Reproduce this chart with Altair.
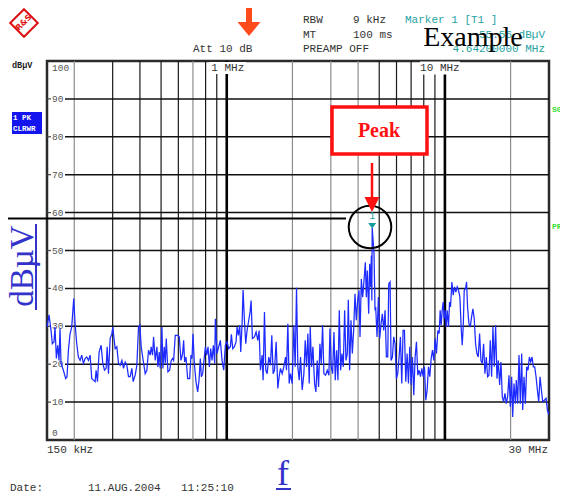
import altair as alt
import pandas as pd

# ---------------- data ----------------
freq_low_khz = [
    150, 153.2, 156.5, 158.7, 161.5, 163.2, 165.6, 167.9, 170.3, 172.1,
    173.9, 178.3, 182.7, 185.3, 188.0, 191.3, 194.7, 198.9, 201.7, 205.3,
    208.9, 212.7, 216.4, 220.3, 224.2, 228.2, 232.3, 236.4, 240.6, 244.9,
    249.3, 251.9, 255.5, 260.0, 265.6, 270.3, 275.1, 280.0, 283.0, 287.0,
    292.1, 297.3, 300.5, 303.7, 308.0, 313.5, 319.1, 324.8, 330.6, 336.4,
    342.3, 348.4, 354.6, 360.9, 367.3, 372.5, 380.5, 387.2, 394.1, 399.8,
    405.4, 412.7, 422.9, 430.4, 438.1, 445.8, 450.6, 457.0, 461.9, 470.1,
    478.5, 483.5, 490.4, 495.6, 500.9, 504.5, 509.8, 517.0, 522.6, 528.1,
    537.5, 547.0, 556.8, 564.7, 570.7, 580.9, 595.4, 606.0, 616.8, 627.7,
    634.4, 641.2, 650.3, 661.9, 676.0, 685.7, 693.0, 700.3, 710.3, 722.9,
    735.7, 746.2, 756.8, 764.8, 775.7, 789.5, 797.9, 809.2, 820.7, 832.4,
    844.2, 856.2, 868.3, 880.7]
level_low_dbuv = [
    29.8, 33.0, 29.0, 25.4, 25.9, 29.8, 21.5, 25.0, 21.0, 29.4,
    20.2, 18.4, 16.2, 16.7, 23.7, 28.0, 29.8, 37.3, 30.7, 25.4,
    21.9, 21.0, 22.4, 20.2, 21.5, 21.9, 21.0, 22.4, 16.2, 15.8,
    15.4, 18.4, 15.4, 23.2, 25.0, 20.2, 18.4, 18.9, 24.6, 17.5,
    26.8, 28.0, 29.8, 27.2, 24.1, 24.6, 20.2, 19.7, 21.0, 18.9,
    20.6, 19.7, 16.7, 16.7, 18.9, 15.4, 17.1, 19.7, 29.8, 30.3,
    24.6, 21.5, 17.5, 18.4, 23.7, 22.4, 24.6, 22.4, 27.2, 21.0,
    24.6, 19.3, 23.2, 18.9, 24.6, 29.8, 18.9, 24.6, 20.2, 26.8,
    18.0, 18.4, 21.0, 21.5, 21.0, 27.6, 27.6, 27.2, 21.0, 22.8,
    26.3, 20.6, 21.9, 16.2, 16.2, 22.4, 21.5, 28.0, 20.2, 15.4,
    12.7, 15.8, 21.5, 16.7, 17.5, 21.9, 24.6, 22.4, 24.6, 19.3,
    24.1, 21.0, 25.0, 20.2]

freq_mid_khz = [
    886.7, 902.4, 918.5, 934.8, 951.5, 968.4, 985.6, 1003.1, 1021.0, 1039.1,
    1050.2, 1065.1, 1084.0, 1103.3, 1115.0, 1130.9, 1146.9, 1159.1, 1175.6, 1188.1,
    1205.0, 1222.1, 1239.4, 1261.5, 1279.4, 1293.0, 1311.4, 1339.4, 1363.2, 1387.5,
    1407.2, 1427.2, 1452.6, 1468.0, 1488.9, 1510.0, 1531.5, 1558.7, 1586.4, 1608.9,
    1631.8, 1655.0, 1684.4, 1714.4, 1738.7, 1763.4, 1794.8, 1826.7, 1859.2, 1879.0,
    1905.7, 1932.7, 1960.2, 1995.0, 2030.5, 2059.4, 2088.6, 2118.3, 2148.4, 2178.9,
    2217.6, 2257.1, 2289.2, 2321.7, 2354.6, 2388.1, 2413.5, 2447.7, 2482.5, 2526.7,
    2562.6, 2599.0, 2635.9, 2673.3, 2711.3, 2749.8, 2788.9, 2838.5, 2889.0, 2940.3,
    2971.6, 3013.8, 3056.6, 3100.0, 3144.1, 3188.7, 3234.0, 3279.9, 3326.5, 3373.8,
    3421.7, 3470.3, 3519.6, 3569.5, 3607.5, 3658.7, 3710.7, 3763.4, 3816.9, 3871.1,
    3926.1, 3981.8, 4038.4, 4081.3, 4139.3, 4198.1, 4257.7, 4318.2, 4364.1, 4410.5,
    4473.2, 4520.8, 4568.8, 4601.2, 4625.0, 4642.0, 4732.8, 4783.2]
level_mid_dbuv = [
    32.0, 22.8, 24.6, 26.3, 21.0, 18.4, 25.0, 25.9, 24.1, 24.6,
    27.9, 24.1, 24.6, 25.9, 29.8, 27.6, 30.3, 23.2, 30.7, 39.6,
    31.6, 25.4, 28.9, 31.6, 33.8, 36.8, 26.8, 27.2, 28.5, 26.3,
    28.9, 18.4, 22.4, 15.8, 33.8, 18.4, 17.5, 21.9, 19.7, 27.6,
    17.5, 18.4, 25.9, 13.6, 16.7, 18.9, 17.5, 19.3, 21.9, 18.4,
    30.7, 14.9, 17.5, 14.9, 30.3, 19.3, 40.2, 19.3, 15.8, 21.9,
    13.2, 17.5, 26.3, 19.3, 28.1, 14.9, 29.8, 19.3, 24.6, 14.9,
    12.7, 21.0, 14.0, 25.4, 20.2, 30.3, 17.5, 17.1, 18.4, 17.1,
    29.4, 19.3, 17.5, 28.5, 15.8, 23.7, 15.8, 34.2, 18.4, 22.8,
    19.3, 34.2, 21.0, 22.8, 37.0, 18.4, 31.6, 22.8, 28.9, 38.6,
    31.6, 36.8, 39.5, 27.2, 42.5, 37.7, 42.1, 46.9, 37.7, 44.7,
    33.3, 46.5, 40.4, 48.7, 36.8, 56.0, 49.1, 34.2]

freq_high_khz = [
    4817, 4885, 4955, 5025, 5097, 5169, 5242, 5317, 5392, 5469,
    5527, 5606, 5665, 5746, 5827, 5910, 5994, 6079, 6165, 6253,
    6342, 6432, 6523, 6616, 6710, 6805, 6902, 7000, 7099, 7200,
    7302, 7406, 7511, 7618, 7726, 7836, 7947, 8060, 8174, 8290,
    8408, 8527, 8648, 8771, 8896, 9022, 9150, 9280, 9412, 9512,
    9613, 9716, 9819, 9923, 10029, 10135, 10243, 10389, 10499, 10611,
    10762, 10914, 11070, 11227, 11386, 11548, 11712, 11878, 12004, 12132,
    12261, 12435, 12568, 12701, 12882, 13065, 13250, 13438, 13629, 13822,
    14019, 14218, 14420, 14625, 14833, 15043, 15257, 15473, 15693, 15916,
    16142, 16372, 16604, 16840, 17079, 17321, 17568, 17817, 18070, 18327,
    18587, 18851, 19119, 19390, 19666, 19945, 20228, 20443, 20734, 21028,
    21252, 21554, 21860, 22170, 22485, 22724, 23047, 23374, 23706, 24043,
    24384, 24731, 25082, 25438, 25800, 26166, 26537, 26914, 27297, 27684,
    28077, 28577, 29085, 29500, 29800, 30000]
level_high_dbuv = [
    35.1, 27.2, 37.7, 26.8, 30.7, 33.3, 28.9, 34.2, 21.9, 21.9,
    41.2, 41.7, 21.0, 21.9, 27.2, 25.4, 16.2, 17.5, 21.9, 27.2,
    14.9, 28.9, 28.9, 15.4, 22.8, 14.9, 24.6, 14.5, 21.9, 11.8,
    21.9, 25.9, 17.1, 18.4, 16.7, 18.9, 16.7, 19.3, 10.5, 13.2,
    19.3, 16.7, 21.5, 23.7, 21.0, 26.8, 22.8, 28.9, 28.1, 34.2,
    30.3, 34.2, 36.4, 32.0, 34.2, 29.8, 34.2, 29.8, 36.4, 35.1,
    41.7, 38.2, 40.4, 39.0, 40.4, 39.5, 37.7, 29.4, 25.0, 29.8,
    39.5, 39.9, 41.7, 35.1, 30.7, 29.8, 32.5, 34.6, 32.0, 25.4,
    22.8, 21.9, 28.1, 21.0, 20.2, 25.4, 17.5, 21.9, 16.7, 17.1,
    26.3, 16.7, 29.8, 19.3, 30.3, 16.2, 21.0, 14.5, 20.6, 11.4,
    10.1, 12.3, 9.6, 11.4, 17.1, 8.8, 16.7, 6.1, 14.9, 9.6,
    15.8, 9.6, 22.4, 9.6, 22.8, 7.9, 16.7, 9.6, 19.3, 18.4,
    21.9, 20.6, 21.9, 19.3, 19.3, 16.7, 13.2, 10.1, 16.7, 13.2,
    10.1, 10.5, 11.0, 7.9, 7.0, 7.5]

level_ticks = [0, 10, 20, 30, 40, 50, 60, 70, 80, 90, 100]
grid_levels = [10, 20, 30, 40, 50, 60, 70, 80, 90]
grid_dark_khz = [300, 400, 500, 600, 800, 900, 5000, 6000, 7000, 8000, 9000]
grid_light_khz = [200, 700, 2000, 3000, 4000, 20000]
grid_decade_khz = [1000, 10000]
marker_khz = [4642]
marker_level = [56.0]
x_domain = [150, 30000]
y_domain = [0, 100]

# ---------------- layout ----------------
W, H = 502, 379
FONT_MONO = "Liberation Mono"
FONT_SERIF = "Liberation Serif"
TEAL = "#27a3a3"
BLUE_TXT = "#3333cc"

xs = alt.Scale(type="log", domain=x_domain, nice=False)
ys = alt.Scale(domain=y_domain, nice=False, zero=False)

trace = pd.DataFrame({
    "f": freq_low_khz + freq_mid_khz + freq_high_khz,
    "l": level_low_dbuv + level_mid_dbuv + level_high_dbuv,
})


def text(t, x, y, **kw):
    return alt.Chart(pd.DataFrame({"t": [t]})).mark_text(**kw).encode(
        text="t:N", x=alt.value(x), y=alt.value(y))


def rule(x, y, x2=None, y2=None, **kw):
    enc = dict(x=alt.value(x), y=alt.value(y))
    if x2 is not None:
        enc["x2"] = alt.value(x2)
    if y2 is not None:
        enc["y2"] = alt.value(y2)
    return alt.Chart(pd.DataFrame({"a": [0]})).mark_rule(**kw).encode(**enc)


def shape(x, y, path, size, **kw):
    return alt.Chart(pd.DataFrame({"a": [0]})).mark_point(
        shape=path, size=size, **kw).encode(x=alt.value(x), y=alt.value(y))


layers = []

# vertical grid
layers.append(alt.Chart(pd.DataFrame({"g": grid_light_khz})).mark_rule(
    color="#8c8c8c", strokeWidth=1.2).encode(x=alt.X("g:Q", scale=xs, axis=None)))
layers.append(alt.Chart(pd.DataFrame({"g": grid_dark_khz})).mark_rule(
    color="#1a1a1a", strokeWidth=1.2).encode(x=alt.X("g:Q", scale=xs, axis=None)))
layers.append(alt.Chart(pd.DataFrame({"g": grid_decade_khz})).mark_rule(
    color="#000000", strokeWidth=2.6).encode(x=alt.X("g:Q", scale=xs, axis=None)))

# horizontal grid + ticks
gl = pd.DataFrame({"v": grid_levels})
layers.append(alt.Chart(gl).mark_rule(color="#111111", strokeWidth=1.5).encode(
    y=alt.Y("v:Q", scale=ys, axis=None), x=alt.value(18), x2=alt.value(W)))
layers.append(alt.Chart(gl).mark_rule(color="#444444", strokeWidth=1.2).encode(
    y=alt.Y("v:Q", scale=ys, axis=None), x=alt.value(0), x2=alt.value(4)))

# y labels inside plot
yl = pd.DataFrame({"v": level_ticks, "s": [str(v) for v in level_ticks]})
lab_kw = dict(font=FONT_MONO, fontSize=9.5, color="#555555", align="left")
layers.append(alt.Chart(yl).transform_filter("datum.v > 0 && datum.v < 100").mark_text(
    baseline="middle", **lab_kw).encode(y=alt.Y("v:Q", scale=ys, axis=None),
                                       x=alt.value(5), text="s:N"))
layers.append(alt.Chart(yl).transform_filter("datum.v == 100").mark_text(
    baseline="top", dy=2, **lab_kw).encode(y=alt.Y("v:Q", scale=ys, axis=None),
                                          x=alt.value(5), text="s:N"))
layers.append(alt.Chart(yl).transform_filter("datum.v == 0").mark_text(
    baseline="bottom", dy=-2, **lab_kw).encode(y=alt.Y("v:Q", scale=ys, axis=None),
                                              x=alt.value(5), text="s:N"))

# top frequency labels with white background
rect_path = "M-1,-0.33L1,-0.33L1,0.33L-1,0.33Z"
for lab, f, sz, dx in [("1 MHz", 1000, 1369, 1), ("10 MHz", 10000, 1600, -5)]:
    d = pd.DataFrame({"f": [f], "s": [lab]})
    layers.append(alt.Chart(d).mark_point(shape=rect_path, size=sz, filled=True,
                                          color="white", opacity=1).encode(
        x=alt.X("f:Q", scale=xs, axis=None), y=alt.value(7), xOffset=alt.value(dx)))
    layers.append(alt.Chart(d).mark_text(font=FONT_MONO, fontSize=11, color="#333333",
                                         dx=dx).encode(
        x=alt.X("f:Q", scale=xs, axis=None), y=alt.value(7), text="s:N"))

# trace
layers.append(alt.Chart(trace).mark_line(color="#1d2bff", strokeWidth=1.25).encode(
    x=alt.X("f:Q", scale=xs, axis=None), y=alt.Y("l:Q", scale=ys, axis=None)))

# marker 1
mk = pd.DataFrame({"f": marker_khz, "l": marker_level})
layers.append(alt.Chart(mk).mark_point(shape="M-1,-0.7L1,-0.7L0,0.7Z", size=64,
                                       filled=True, color="#129a9a", opacity=1).encode(
    x=alt.X("f:Q", scale=xs, axis=None), y=alt.Y("l:Q", scale=ys, axis=None),
    yOffset=alt.value(-2)))
layers.append(alt.Chart(mk).mark_text(text="1", font=FONT_MONO, fontSize=10,
                                      color=TEAL, dy=-12).encode(
    x=alt.X("f:Q", scale=xs, axis=None), y=alt.Y("l:Q", scale=ys, axis=None)))

# marker level line and circle
layers.append(rule(-47, 157.5, x2=299, color="#000000", strokeWidth=2))
layers.append(shape(323, 166, "circle", 1810, filled=False, color="#000000",
                    strokeWidth=2, opacity=1))

# "Peak" call-out
layers.append(alt.Chart(pd.DataFrame({"a": [0]})).mark_rect(
    fill="white", stroke="#ff1111", strokeWidth=3.5).encode(
    x=alt.value(285), x2=alt.value(380), y=alt.value(46), y2=alt.value(93)))
layers.append(text("Peak", 332, 70, font=FONT_SERIF, fontSize=20, fontWeight="bold",
                   color="#ff1111", baseline="middle"))
layers.append(rule(325, 102, y2=137, color="#ff1111", strokeWidth=2.5))
layers.append(shape(325, 143.5, "M-1,-1L1,-1L0,1Z", 225, filled=True,
                    color="#ff1111", opacity=1))

# orange arrow on top
layers.append(rule(202, -53, y2=-38, color="#ff4a1c", strokeWidth=6))
layers.append(shape(202, -32, "M-1,-0.6L1,-0.6L0,0.6Z", 529, filled=True,
                    color="#ff4a1c", opacity=1))

# header texts
hk = dict(font=FONT_MONO, fontSize=11, color="#333333", align="left", baseline="middle")
layers.append(text("RBW", 256, -41, **hk))
layers.append(text("9 kHz", 306, -41, **hk))
layers.append(text("MT", 256, -26, **hk))
layers.append(text("100 ms", 306, -26, **hk))
layers.append(text("PREAMP OFF", 256, -12, **hk))
layers.append(text("Att 10 dB", 146, -12, **hk))
tk = dict(font=FONT_MONO, fontSize=11, color=TEAL, baseline="middle")
layers.append(text("Marker 1 [T1 ]", 358, -41, align="left", **tk))
layers.append(text("55.56 dBµV", 498, -26, align="right", **tk))
layers.append(text("4.64200000 MHz", 498, -12, align="right", **tk))
layers.append(text("Example", 426, -15, font=FONT_SERIF, fontSize=28,
                   color="#000000", baseline="alphabetic"))

# logo
layers.append(shape(-23, -38, "diamond", 760, filled=False, color="#dd1111",
                    strokeWidth=2, opacity=1))
layers.append(text("R&S", -23, -38, font="DejaVu Sans", fontSize=8, fontWeight="bold",
                   color="#dd1111", baseline="middle", angle=315))

# left annotations
layers.append(text("dBµV", -35, 4, font=FONT_MONO, fontSize=8.5, fontWeight="bold",
                   color="#222222", align="left", baseline="middle"))
layers.append(alt.Chart(pd.DataFrame({"a": [0]})).mark_rect(fill="#1414ee").encode(
    x=alt.value(-35), x2=alt.value(-5), y=alt.value(51), y2=alt.value(73)))
bk = dict(font=FONT_MONO, fontSize=7.5, fontWeight="bold", color="white",
          align="left", baseline="middle")
layers.append(text("1 PK", -34, 56.5, **bk))
layers.append(text("CLRWR", -34, 67.5, **bk))
layers.append(text("dBµV", -14, 205, font=FONT_SERIF, fontSize=33, color=BLUE_TXT,
                   angle=270, baseline="alphabetic"))
layers.append(rule(-11, 163, x2=None, y2=249, color=BLUE_TXT, strokeWidth=2))

# right annotations (cut by the page edge, as in the reference)
gk = dict(font=FONT_MONO, fontSize=8, fontWeight="bold", color="#33dd33",
          align="left", baseline="middle")
layers.append(text("SGL", 505, 49, **gk))
layers.append(text("PRN", 505, 166, **gk))

# bottom texts
layers.append(text("150 kHz", 0, 389, **hk))
layers.append(text("30 MHz", 501, 389, font=FONT_MONO, fontSize=11, color="#333333",
                   align="right", baseline="middle"))
layers.append(text("f", 236, 424, font=FONT_SERIF, fontSize=36, color=BLUE_TXT,
                   baseline="alphabetic"))
layers.append(rule(229, 428, x2=244, color=BLUE_TXT, strokeWidth=2))
layers.append(text("Date:", -37, 427, **hk))
layers.append(text("11.AUG.2004", 41, 427, **hk))
layers.append(text("11:25:10", 134, 427, **hk))

chart = alt.layer(*layers).properties(
    width=W, height=H,
    autosize=alt.AutoSizeParams(type="none"),
    padding={"left": 39, "top": 53, "right": 11, "bottom": 53},
    background="white",
).configure_view(stroke="#2a2a2a", strokeWidth=2.5)

chart.save("out.html", embed_options={"renderer": "svg", "actions": False})
